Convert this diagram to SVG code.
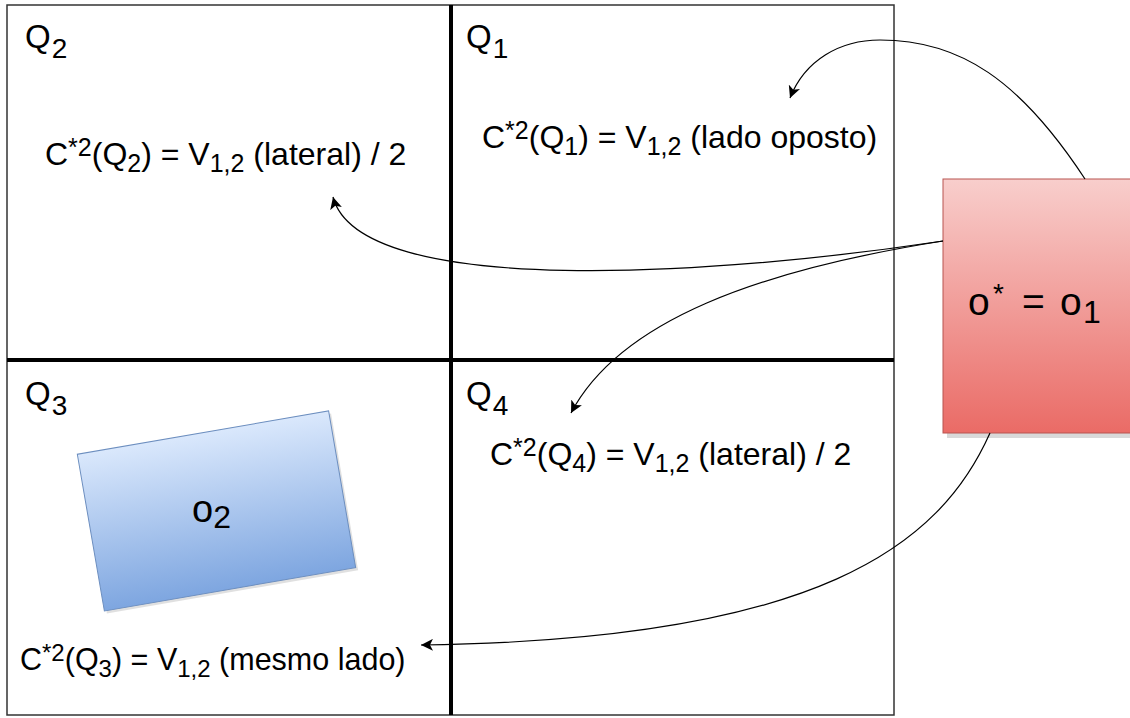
<svg xmlns="http://www.w3.org/2000/svg" width="1130" height="718" viewBox="0 0 1130 718">
<defs>
<linearGradient id="gRed" x1="0" y1="0" x2="0" y2="1"><stop offset="0" stop-color="#f8cecc"/><stop offset="1" stop-color="#ea6b66"/></linearGradient>
<linearGradient id="gBlue" x1="0" y1="0" x2="0" y2="1"><stop offset="0" stop-color="#dae8fc"/><stop offset="1" stop-color="#7ea6e0"/></linearGradient>
<marker id="arr" markerWidth="14" markerHeight="12" refX="12" refY="6" orient="auto" markerUnits="userSpaceOnUse">
<path d="M0,0 L12,6 L0,12 L3,6 Z" fill="#000"/>
</marker>
<style>
text{font-family:"Liberation Sans",Arial,sans-serif;fill:#000}
.q{font-size:33px}
.qs{font-size:28px}
.f{font-size:32px}
.s{font-size:25px}
.f3{font-size:30.5px}
.s3{font-size:24px}
.conn{fill:none;stroke:#000;stroke-width:1.2;marker-end:url(#arr)}
</style>
</defs>
<rect width="1130" height="718" fill="#fff"/>
<g id="frame">
<rect x="7" y="5" width="887" height="710" fill="none" stroke="#333" stroke-width="1.5"/>
<line x1="451" y1="5" x2="451" y2="715" stroke="#000" stroke-width="4"/>
<line x1="7" y1="360" x2="894" y2="360" stroke="#000" stroke-width="4"/>
</g>
<g id="labels">
<text class="q" x="25" y="48">Q<tspan class="qs" dx="1" dy="10">2</tspan></text>
<text class="q" x="466" y="48">Q<tspan class="qs" dx="1" dy="10">1</tspan></text>
<text class="q" x="25" y="405">Q<tspan class="qs" dx="1" dy="10">3</tspan></text>
<text class="q" x="466" y="405">Q<tspan class="qs" dx="1" dy="10">4</tspan></text>
<text class="f" x="45" y="165">C<tspan class="s" dy="-9">*2</tspan><tspan dy="9">(Q</tspan><tspan class="s" dy="7">2</tspan><tspan dy="-7">) = V</tspan><tspan class="s" dy="7">1,2</tspan><tspan dy="-7"> (lateral) / 2</tspan></text>
<text class="f" x="482" y="148">C<tspan class="s" dy="-9">*2</tspan><tspan dy="9">(Q</tspan><tspan class="s" dy="7">1</tspan><tspan dy="-7">) = V</tspan><tspan class="s" dy="7">1,2</tspan><tspan dy="-7"> (lado oposto)</tspan></text>
<text class="f" x="490" y="465">C<tspan class="s" dy="-9">*2</tspan><tspan dy="9">(Q</tspan><tspan class="s" dy="7">4</tspan><tspan dy="-7">) = V</tspan><tspan class="s" dy="7">1,2</tspan><tspan dy="-7"> (lateral) / 2</tspan></text>
<text class="f3" x="20" y="670">C<tspan class="s3" dy="-9">*2</tspan><tspan dy="9">(Q</tspan><tspan class="s3" dy="7">3</tspan><tspan dy="-7">) = V</tspan><tspan class="s3" dy="7">1,2</tspan><tspan dy="-7"> (mesmo lado)</tspan></text>
</g>
<g id="o2">
<g transform="rotate(-9.8 216 511)">
<rect x="91" y="434.5" width="255" height="159" fill="#000" opacity="0.12"/>
<rect x="89" y="431.5" width="255" height="159" fill="url(#gBlue)" stroke="#6c8ebf" stroke-width="1"/>
</g>
<text x="192" y="522" style="font-size:38px">o<tspan style="font-size:32px" dy="6">2</tspan></text>
</g>
<g id="o1">
<rect x="947" y="183" width="190" height="255" fill="#000" opacity="0.15"/>
<rect x="943" y="179" width="190" height="254" fill="url(#gRed)" stroke="#b85450" stroke-width="1"/>
<text y="315" style="font-size:39px"><tspan x="968">o</tspan><tspan x="993" y="303" style="font-size:28px">*</tspan><tspan x="1022" y="315">=</tspan><tspan x="1060" y="315">o</tspan><tspan x="1083" y="323" style="font-size:32px">1</tspan></text>
</g>
<g id="connectors">
<path class="conn" d="M1085,179 C1020,80 960,40 880,40 C840,40 805,60 790,98"/>
<path class="conn" d="M943,241 C720,275 360,300 333,197"/>
<path class="conn" d="M943,241 C760,270 620,320 571,413"/>
<path class="conn" d="M990,433 C940,545 820,640 421,645"/>
</g>
</svg>
